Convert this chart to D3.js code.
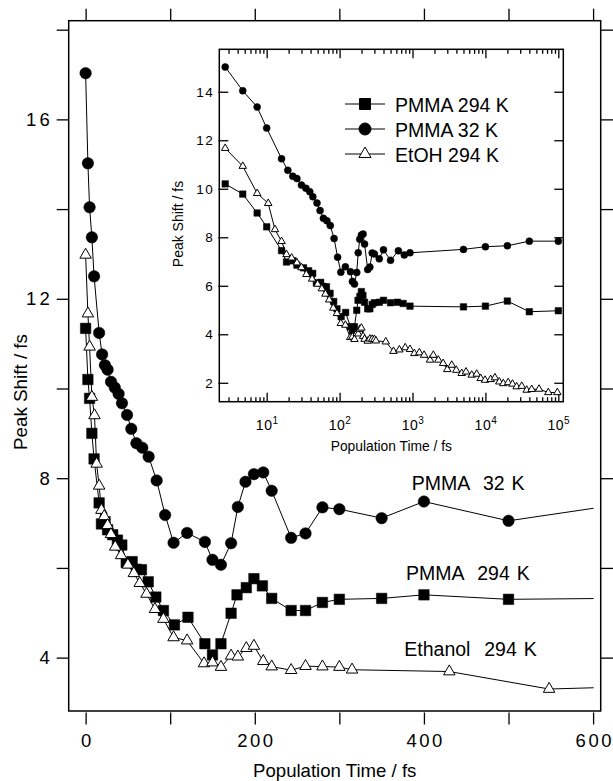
<!DOCTYPE html>
<html>
<head>
<meta charset="utf-8">
<script src="https://cdn.jsdelivr.net/npm/d3@7"></script>
<style>
  body { margin: 0; background: #fff; }
  svg { display: block; font-family: "Liberation Sans", Arial, Helvetica, sans-serif; }
</style>
</head>
<body>
<div id="chart"></div>
<script>
// population time (fs) and peak shift (fs) per sample
const timeP32 = [0, 2.7, 4.7, 7.4, 10, 16, 19.5, 22.8, 26, 30, 34.5, 39, 43, 49, 54, 60, 67, 74.5, 84, 94,
    104, 120, 141, 150, 160, 172, 180, 189, 199, 210, 220, 243, 260, 280, 300, 350, 400, 500, 640, 772,
    924, 5000, 10000, 20000, 40000, 100000];
const shiftP32 = [17.03, 15.02, 14.04, 13.37, 12.5, 11.24, 10.76, 10.52, 10.42, 10.15, 10.02, 9.88, 9.67, 9.41, 9.1, 8.78, 8.68, 8.48, 7.95, 7.18,
    6.56, 6.78, 6.58, 6.18, 6.07, 6.55, 7.36, 7.92, 8.09, 8.13, 7.72, 6.67, 6.77, 7.35, 7.31, 7.11, 7.48, 7.05, 7.44, 7.27,
    7.36, 7.5, 7.61, 7.65, 7.84, 7.84];

const timeP294 = [0, 2.7, 4.7, 7.4, 10, 16, 18.7, 23, 26, 32, 37.6, 42.8, 48, 55, 60, 66, 74, 83, 92, 105,
    121, 141, 150, 160, 172, 179, 190, 199, 209, 220, 243, 260, 280, 300, 350, 400, 500, 620, 745, 924,
    5000, 10000, 20000, 40000, 100000];
const shiftP294 = [11.34, 10.2, 9.78, 9.0, 8.43, 7.45, 6.98, 7.03, 6.85, 6.74, 6.62, 6.51, 6.12, 6.14, 5.97, 5.96, 5.69, 5.35, 5.05, 4.73,
    4.90, 4.31, 4.06, 4.31, 4.99, 5.40, 5.56, 5.76, 5.60, 5.32, 5.05, 5.05, 5.23, 5.30, 5.32, 5.40, 5.30, 5.32, 5.27, 5.16,
    5.13, 5.16, 5.37, 4.93, 4.97];

const timeEtOH = [0, 2.7, 4.7, 7.4, 10.5, 13, 16, 18.7, 22, 26, 30, 35, 42, 50, 57, 64, 72, 82, 92, 104,
    120, 140, 150, 160, 172, 180, 190, 199, 210, 220, 243, 260, 280, 300, 315, 430, 548, 660, 794, 924,
    1060, 1240, 1440, 1740, 1930, 2260, 2630, 3000, 3450, 3980, 4730, 5420, 6490, 7590, 8610, 9880, 11800, 13500, 15500, 17600,
    20500, 23500, 26800, 31500, 36800, 43100, 54400, 72900, 96800];
const shiftEtOH = [12.98, 11.67, 10.93, 9.81, 9.4, 8.32, 7.83, 7.29, 7.15, 6.95, 6.75, 6.47, 6.28, 6.07, 5.88, 5.66, 5.42, 5.08, 4.86, 4.45,
    4.38, 3.87, 3.89, 3.79, 4.04, 4.02, 4.21, 4.26, 3.92, 3.80, 3.72, 3.81, 3.80, 3.79, 3.73, 3.69, 3.30, 3.36, 3.45, 3.38,
    3.21, 3.24, 3.14, 2.94, 3.14, 2.94, 2.80, 2.55, 2.73, 2.52, 2.39, 2.45, 2.32, 2.36, 2.18, 2.11, 2.14, 2.21, 2.04, 1.97,
    2.01, 1.95, 1.84, 1.86, 1.70, 1.73, 1.74, 1.60, 1.60];

const mainXTicks = [0, 100, 200, 300, 400, 500, 600];
const mainXLabels = [0, 200, 400, 600];
const mainYTicks = [4, 6, 8, 10, 12, 14, 16, 18];
const mainYLabels = [4, 8, 12, 16];
const insetYTicks = [2, 4, 6, 8, 10, 12, 14];
const insetXDecades = [1, 2, 3, 4, 5];

const legendNames = ["PMMA 294 K", "PMMA 32 K", "EtOH 294 K"];
const curveNames = ["PMMA  32 K", "PMMA  294 K", "Ethanol  294 K"];

const svg = d3.select("#chart").append("svg")
    .attr("width", 613)
    .attr("height", 781);

const main = { left: 68.7, top: 20.7, right: 600.7, bottom: 711 };
const inset = { left: 219.3, top: 49.3, right: 563.3, bottom: 401.7 };

const x = d3.scaleLinear().domain([-20, 609]).range([main.left, main.right]);
const y = d3.scaleLinear().domain([2.81, 18.2]).range([main.bottom, main.top]);
const xIn = d3.scaleLog().domain([2.24, 1.17e5]).range([inset.left, inset.right]);
const yIn = d3.scaleLinear().domain([1.22, 15.75]).range([inset.bottom, inset.top]);

function markerPath(type, s) {
    if (type === "square") {
        return `M${-s / 2},${-s / 2}h${s}v${s}h${-s}Z`;
    } else if (type === "circle") {
        const r = s / 2;
        return `M${-r},0a${r},${r} 0 1,0 ${2 * r},0a${r},${r} 0 1,0 ${-2 * r},0Z`;
    }
    const h = s * 0.866;
    return `M0,${-2 * h / 3}L${s / 2},${h / 3}L${-s / 2},${h / 3}Z`;
}

function drawSeries(g, times, shifts, xs, ys, type, size, keep) {
    const pts = times.map((t, i) => ({ t: t, v: shifts[i] })).filter(keep);
    g.append("path")
        .datum(pts)
        .attr("fill", "none")
        .attr("stroke", "#000")
        .attr("stroke-width", 1)
        .attr("d", d3.line().x(d => xs(d.t)).y(d => ys(d.v)));
    g.selectAll(null)
        .data(pts)
        .join("path")
        .attr("transform", d => `translate(${xs(d.t)},${ys(d.v)})`)
        .attr("d", markerPath(type, size))
        .attr("fill", type === "triangle" ? "#fff" : "#000")
        .attr("stroke", "#000")
        .attr("stroke-width", type === "triangle" ? 1 : 0.5);
}

function styleAxis(g, fontSize, spacing) {
    g.select(".domain").remove();
    g.attr("font-family", null).attr("font-size", null);
    g.selectAll(".tick line").attr("stroke", "#000").attr("stroke-width", 1.3);
    g.selectAll(".tick text")
        .attr("fill", "#000")
        .style("font-size", fontSize + "px")
        .style("letter-spacing", spacing + "px");
}

// ---------- main chart ----------
const mainData = svg.append("g");
const mainKeep = d => d.t <= 700;
drawSeries(mainData, timeP294, shiftP294, x, y, "square", 10.5, mainKeep);
drawSeries(mainData, timeEtOH, shiftEtOH, x, y, "triangle", 11.5, mainKeep);
drawSeries(mainData, timeP32, shiftP32, x, y, "circle", 11.5, mainKeep);

// the curves stop at the 600 fs axis end; blank out what runs past it
svg.append("rect")
    .attr("x", x(600) + 0.5).attr("y", 0)
    .attr("width", 613 - x(600)).attr("height", 781)
    .attr("fill", "#fff");

svg.append("g")
    .attr("transform", `translate(${main.left},0)`)
    .call(d3.axisLeft(y).tickValues(mainYTicks).tickSize(12).tickPadding(4)
        .tickFormat(d => mainYLabels.includes(d) ? d : ""))
    .call(g => styleAxis(g, 18.5, 3));

svg.append("g")
    .attr("transform", `translate(${main.right},0)`)
    .call(d3.axisRight(y).tickValues(mainYTicks).tickSize(13).tickFormat(""))
    .call(g => styleAxis(g, 18.5, 0));

svg.append("g")
    .attr("transform", `translate(0,${main.top})`)
    .call(d3.axisTop(x).tickValues(mainXTicks).tickSize(12).tickFormat(""))
    .call(g => styleAxis(g, 18.5, 0));

const bottomAxis = svg.append("g")
    .attr("transform", `translate(0,${main.bottom + 1.5})`)
    .call(d3.axisBottom(x).tickValues(mainXTicks).tickSize(12)
        .tickFormat(d => mainXLabels.includes(d) ? d : ""))
    .call(g => styleAxis(g, 18.5, 2.5));
bottomAxis.selectAll(".tick text").attr("y", 34).attr("dy", null).attr("dx", "1.2");

svg.append("rect")
    .attr("x", main.left).attr("y", main.top)
    .attr("width", main.right - main.left).attr("height", main.bottom - main.top)
    .attr("fill", "none").attr("stroke", "#000").attr("stroke-width", 1.5);

svg.append("text")
    .attr("x", (main.left + main.right) / 2)
    .attr("y", 777)
    .attr("text-anchor", "middle")
    .style("font-size", "18.6px")
    .text("Population Time / fs");

svg.append("text")
    .attr("transform", "translate(27,392) rotate(-90)")
    .attr("text-anchor", "middle")
    .style("font-size", "18.8px")
    .text("Peak Shift / fs");

const curveLabelPos = [[411.7, 490], [406, 580], [404.3, 656]];
svg.selectAll(".curve-label")
    .data(curveNames)
    .join("text")
    .attr("class", "curve-label")
    .attr("x", (d, i) => curveLabelPos[i][0])
    .attr("y", (d, i) => curveLabelPos[i][1])
    .style("font-size", "19.5px")
    .style("white-space", "pre")
    .style("word-spacing", "1.5px")
    .text(d => d);

// ---------- inset ----------
svg.append("rect")
    .attr("x", inset.left).attr("y", inset.top)
    .attr("width", inset.right - inset.left).attr("height", inset.bottom - inset.top)
    .attr("fill", "#fff");

svg.append("g")
    .attr("transform", `translate(${inset.left},0)`)
    .call(d3.axisLeft(yIn).tickValues(insetYTicks).tickSizeInner(-9).tickSizeOuter(0).tickPadding(5))
    .call(g => styleAxis(g, 13.5, 1.5))
    .call(g => g.selectAll(".tick line").attr("x1", -1));

svg.append("g")
    .attr("transform", `translate(${inset.right},0)`)
    .call(d3.axisRight(yIn).tickValues(insetYTicks).tickSizeInner(-9).tickSizeOuter(0).tickFormat(""))
    .call(g => styleAxis(g, 13.5, 0));

const decadeTicks = insetXDecades.map(k => Math.pow(10, k));
const minorTicks = [];
for (let k = 0; k <= 4; k++) {
    for (let m = 2; m <= 9; m++) {
        const v = m * Math.pow(10, k);
        if (v >= 2.24 && v <= 1.17e5) minorTicks.push(v);
    }
}

const insetBottom = svg.append("g")
    .attr("transform", `translate(0,${inset.bottom})`)
    .call(d3.axisBottom(xIn).tickValues(decadeTicks).tickSizeInner(-9).tickSizeOuter(0))
    .call(g => styleAxis(g, 14, 0.5));
insetBottom.selectAll(".tick text")
    .attr("y", 28.5).attr("dy", null)
    .text("")
    .call(t => t.append("tspan").text("10"))
    .call(t => t.append("tspan").attr("dy", -6).style("font-size", "10px").text((d) => Math.round(Math.log10(d))));

svg.append("g")
    .attr("transform", `translate(0,${inset.bottom})`)
    .call(d3.axisBottom(xIn).tickValues(minorTicks).tickSizeInner(-4.5).tickSizeOuter(0).tickFormat(""))
    .call(g => styleAxis(g, 14, 0));

svg.append("g")
    .attr("transform", `translate(0,${inset.top})`)
    .call(d3.axisTop(xIn).tickValues(decadeTicks).tickSizeInner(-9).tickSizeOuter(0).tickFormat(""))
    .call(g => styleAxis(g, 14, 0));

svg.append("g")
    .attr("transform", `translate(0,${inset.top})`)
    .call(d3.axisTop(xIn).tickValues(minorTicks).tickSizeInner(-4.5).tickSizeOuter(0).tickFormat(""))
    .call(g => styleAxis(g, 14, 0));

svg.append("rect")
    .attr("x", inset.left).attr("y", inset.top)
    .attr("width", inset.right - inset.left).attr("height", inset.bottom - inset.top)
    .attr("fill", "none").attr("stroke", "#000").attr("stroke-width", 1.5);

svg.append("text")
    .attr("x", (inset.left + inset.right) / 2)
    .attr("y", 451)
    .attr("text-anchor", "middle")
    .style("font-size", "13.8px")
    .text("Population Time / fs");

svg.append("text")
    .attr("transform", "translate(183,224) rotate(-90)")
    .attr("text-anchor", "middle")
    .style("font-size", "14px")
    .text("Peak Shift / fs");

const insetData = svg.append("g");
const insetKeep = d => d.t > 0;
drawSeries(insetData, timeP294, shiftP294, xIn, yIn, "square", 6.5, insetKeep);
drawSeries(insetData, timeEtOH, shiftEtOH, xIn, yIn, "triangle", 7.5, insetKeep);
drawSeries(insetData, timeP32, shiftP32, xIn, yIn, "circle", 7, insetKeep);

// legend
const legendTypes = ["square", "circle", "triangle"];
const legend = svg.append("g");
legendNames.forEach((name, i) => {
    const ly = 104 + i * 25;
    legend.append("line")
        .attr("x1", 345).attr("x2", 385)
        .attr("y1", ly).attr("y2", ly)
        .attr("stroke", "#000").attr("stroke-width", 1);
    legend.append("path")
        .attr("transform", `translate(365,${ly})`)
        .attr("d", markerPath(legendTypes[i], legendTypes[i] === "square" ? 11 : 12))
        .attr("fill", legendTypes[i] === "triangle" ? "#fff" : "#000")
        .attr("stroke", "#000")
        .attr("stroke-width", 1);
    legend.append("text")
        .attr("x", 395)
        .attr("y", ly + 7.5)
        .style("font-size", "19.5px")
        .text(name);
});
</script>
</body>
</html>
